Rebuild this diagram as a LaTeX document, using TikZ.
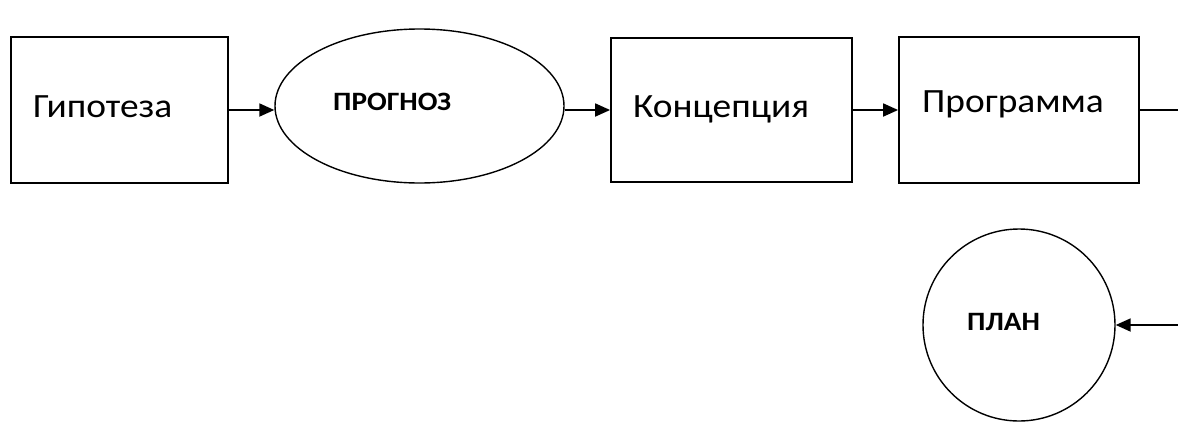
\documentclass[tikz,border=0pt]{standalone}
\usepackage{fontspec}
\setmainfont{Carlito}[FakeStretch=1.1]
\usetikzlibrary{arrows.meta,shapes.geometric}
\tikzset{
  boxnode/.style={draw,line width=1.8pt,rectangle,inner sep=0pt},
  ovalnode/.style={draw,line width=1.4pt,ellipse,inner sep=0pt},
  roundnode/.style={draw,line width=1.4pt,circle,inner sep=0pt},
  lbl/.style={anchor=base west,inner sep=0pt,font=\fontsize{34}{40}\selectfont},
  blbl/.style={anchor=base west,inner sep=0pt,font=\bfseries\fontsize{26.5}{32}\selectfont},
  arr/.style={line width=1.8pt,-{Triangle[length=15pt,width=13pt]}},
  ln/.style={line width=1.8pt}
}
\begin{document}
\begin{tikzpicture}[x=1pt,y=-1pt]
\useasboundingbox (0,0) rectangle (1178,421);
\node[boxnode,minimum width=217pt,minimum height=146pt] (b1) at (119.5,110) {};
\node[ovalnode,minimum width=289pt,minimum height=154pt] (e) at (419.5,106) {};
\node[boxnode,minimum width=241pt,minimum height=144pt] (b2) at (731.5,110) {};
\node[boxnode,minimum width=240pt,minimum height=146pt] (b3) at (1019,110) {};
\node[roundnode,minimum size=192pt] (c) at (1019,325) {};
\node[lbl] (t1) at (33,117) {Гипотеза};
\node[blbl] (t2) at (333,110) {ПРОГНОЗ};
\node[lbl] (t3) at (633,117) {Концепция};
\node[lbl] (t4) at (922,112) {Программа};
\node[blbl] (t5) at (967,330) {ПЛАН};
\coordinate (r1) at (1178,110);
\coordinate (r2) at (1178,325);
\draw[arr] (b1.east) -- (b1.east -| e.west);
\draw[arr] (b2.west -| e.east) -- (b2.west);
\draw[arr] (b2.east) -- (b2.east -| b3.west);
\draw[ln] (b3.east) -- (r1);
\draw[arr] (r2) -- (c.east);
\end{tikzpicture}
\end{document}
